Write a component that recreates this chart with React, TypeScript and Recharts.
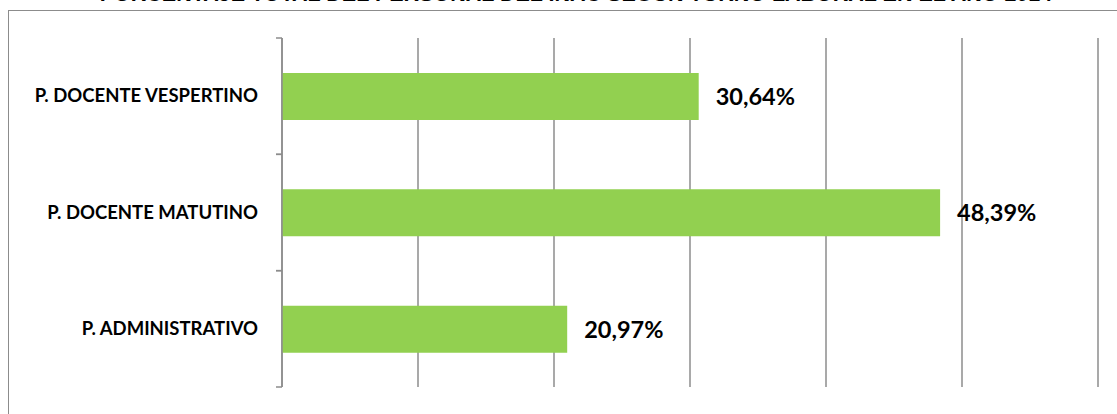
import React from 'react';
import { BarChart, Bar, XAxis, YAxis, CartesianGrid, LabelList } from 'recharts';

// Percentages by shift
const categories = ['P. DOCENTE VESPERTINO', 'P. DOCENTE MATUTINO', 'P. ADMINISTRATIVO'];
const percentages = [30.64, 48.39, 20.97];
const xTicks = [0, 10, 20, 30, 40, 50, 60];
const title = 'PORCENTAJE TOTAL DEL PERSONAL DEL INAC SEGÚN TURNO LABORAL EN EL AÑO 2014';

const W = 1117;
const H = 414;
const MARGIN = { top: 38, right: 19, bottom: 27, left: 0 };
const BAND = (H - MARGIN.top - MARGIN.bottom) / categories.length;
const GRID = '#8c8c8c';

const data = categories.map((name, i) => ({ name, value: percentages[i] }));

function CategoryTick(props: any) {
    const { x, y, payload } = props;
    const axisX = x + 24;
    return (
        <g>
            <line x1={axisX - 6} x2={axisX} y1={y - BAND / 2} y2={y - BAND / 2} stroke={GRID} strokeWidth={1.5} />
            <line x1={axisX - 6} x2={axisX} y1={y + BAND / 2} y2={y + BAND / 2} stroke={GRID} strokeWidth={1.5} />
            <text x={x} y={y} dy={6} textAnchor="end" fontSize={18.5} fontWeight={700} fill="#000" fontFamily="Lato">
                {payload.value}
            </text>
        </g>
    );
}

const fmt = (v: any) => `${Number(v).toFixed(2).replace('.', ',')}%`;

export default function App() {
    return (
        <div style={{ position: 'fixed', top: 0, left: 0, width: W, height: H, background: '#fff', overflow: 'hidden', fontFamily: 'Lato' }}>
            <div
                style={{
                    position: 'absolute',
                    left: 8,
                    top: 10,
                    width: 1130,
                    height: 430,
                    border: `1.5px solid ${GRID}`,
                }}
            />
            <div
                style={{
                    position: 'absolute',
                    top: -16,
                    left: 0,
                    width: 1152,
                    textAlign: 'center',
                    fontFamily: '"Liberation Sans", Arial',
                    fontWeight: 700,
                    fontSize: 21.5,
                    lineHeight: '21px',
                    color: '#000',
                    whiteSpace: 'nowrap',
                }}
            >
                {title}
            </div>
            <div style={{ position: 'absolute', top: 0, left: 0 }}>
                <BarChart width={W} height={H} data={data} layout="vertical" margin={MARGIN}>
                    <CartesianGrid horizontal={false} vertical stroke={GRID} strokeWidth={1.5} />
                    <XAxis type="number" domain={[0, 60]} ticks={xTicks} hide />
                    <YAxis
                        type="category"
                        dataKey="name"
                        width={282}
                        axisLine={{ stroke: GRID, strokeWidth: 1.5 }}
                        tickLine={false}
                        tickSize={0}
                        tickMargin={24}
                        tick={<CategoryTick />}
                    />
                    <Bar dataKey="value" fill="#92D050" barSize={47} isAnimationActive={false}>
                        <LabelList
                            dataKey="value"
                            position="right"
                            offset={17}
                            formatter={fmt}
                            fill="#000"
                            fontSize={23.5}
                            fontWeight={700}
                            fontFamily="Lato"
                        />
                    </Bar>
                </BarChart>
            </div>
        </div>
    );
}
